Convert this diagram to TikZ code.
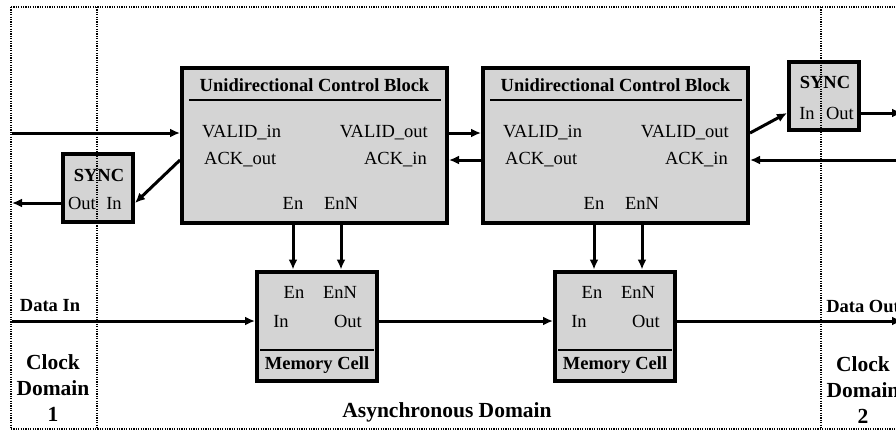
\documentclass[tikz,border=0pt]{standalone}
\usepackage{fontspec}
\setmainfont{Liberation Serif}
\usepackage{xcolor}
\usetikzlibrary{arrows.meta,positioning}
\definecolor{blockgray}{RGB}{212,212,212}

\begin{document}
\begin{tikzpicture}[x=1pt,y=-1pt,
  block/.style={draw,line width=4pt,fill=blockgray,inner sep=0pt},
  ucb/.style={block,minimum width=265pt,minimum height=155pt},
  cell/.style={block,minimum width=120pt,minimum height=109pt},
  sync/.style={block,minimum width=70pt,minimum height=68pt},
  lbl/.style={inner sep=0pt,font=\fontsize{18.5}{21}\selectfont},
  boldlbl/.style={inner sep=0pt,font=\fontsize{18.5}{21}\selectfont\bfseries},
  domainlbl/.style={align=center,inner sep=0pt,font=\fontsize{21.5}{26}\selectfont\bfseries},
  sig/.style={line width=3pt,-{Latex[length=10pt,width=9pt]}},
  frame/.style={line width=1.5pt,dash pattern=on 1.2pt off 1.2pt}]
\useasboundingbox (0,0) rectangle (896,432);

\coordinate (edgeL) at (12,0);
\coordinate (edgeR) at (902,0);

% control blocks
\node[ucb] (UCB1) at (314.5,145.5) {};
\node[ucb] (UCB2) [right = 32pt of UCB1] {};
\node[boldlbl] (title1) at (314.5,85) {Unidirectional Control Block};
\node[boldlbl] (title2) at (615.5,85) {Unidirectional Control Block};
\draw[line width=1.5pt] (189,100) -- (441,100);
\draw[line width=1.5pt] (490,100) -- (742,100);

\node[lbl,anchor=west] (vin1) at (202,133) {VALID\_in};
\node[lbl,anchor=west] (aout1) at (204,160) {ACK\_out};
\node[lbl,anchor=east] (vout1) at (428,133) {VALID\_out};
\node[lbl,anchor=east] (ain1) at (427,160) {ACK\_in};
\node[lbl] (en1) at (293,203) {En};
\node[lbl] (enn1) at (341,203) {EnN};

\node[lbl,anchor=west] (vin2) at (503,133) {VALID\_in};
\node[lbl,anchor=west] (aout2) at (505,160) {ACK\_out};
\node[lbl,anchor=east] (vout2) at (729,133) {VALID\_out};
\node[lbl,anchor=east] (ain2) at (728,160) {ACK\_in};
\node[lbl] (en2) at (594,203) {En};
\node[lbl] (enn2) at (642,203) {EnN};

% memory cells
\node[cell] (MEM1) at (317,326) {};
\node[cell] (MEM2) at (615,326) {};
\draw[line width=1.5pt] (260,350) -- (374,350);
\draw[line width=1.5pt] (558,350) -- (672,350);
\node[lbl] (men1) at (294,292) {En};
\node[lbl] (menn1) at (340,292) {EnN};
\node[lbl] (min1) at (281,321) {In};
\node[lbl] (mout1) at (348,321) {Out};
\node[boldlbl] (mtitle1) at (317,365) {Memory Cell};
\node[lbl] (men2) at (592,292) {En};
\node[lbl] (menn2) at (638,292) {EnN};
\node[lbl] (min2) at (579,321) {In};
\node[lbl] (mout2) at (646,321) {Out};
\node[boldlbl] (mtitle2) at (615,365) {Memory Cell};

% synchronizers
\node[sync] (SYNC1) at (98,187.5) {};
\node[boldlbl] (stitle1) at (99,175) {SYNC};
\node[lbl] (sout1) at (82,203) {Out};
\node[lbl] (sin1) at (114,203) {In};
\node[sync] (SYNC2) at (824,95.5) {};
\node[boldlbl] (stitle2) at (825,82) {SYNC};
\node[lbl] (sin2) at (807,113) {In};
\node[lbl] (sout2) at (840,113) {Out};

% handshake
\draw[sig] (edgeL |- vin1) -- (UCB1.west |- vin1);
\draw[sig] (UCB1.west |- aout1) -- (SYNC1.east |- sin1);
\draw[sig] (SYNC1.west |- sout1) -- (edgeL |- sout1);
\draw[sig] (UCB1.east |- vout1) -- (UCB2.west |- vin2);
\draw[sig] (UCB2.west |- aout2) -- (UCB1.east |- ain1);
\draw[sig] (UCB2.east |- vout2) -- (SYNC2.west |- sin2);
\draw[sig] (SYNC2.east |- sout2) -- (edgeR |- sout2);
\draw[sig] (edgeR |- ain2) -- (UCB2.east |- ain2);

% enables
\draw[sig] (en1 |- UCB1.south) -- (en1 |- MEM1.north);
\draw[sig] (enn1 |- UCB1.south) -- (enn1 |- MEM1.north);
\draw[sig] (en2 |- UCB2.south) -- (en2 |- MEM2.north);
\draw[sig] (enn2 |- UCB2.south) -- (enn2 |- MEM2.north);

% data path
\draw[sig] (edgeL |- min1) -- (MEM1.west |- min1);
\draw[sig] (MEM1.east |- mout1) -- (MEM2.west |- min2);
\draw[sig] (MEM2.east |- mout2) -- (edgeR |- mout2);

\node[boldlbl] (datain) at (50,306) {Data In};
\node[boldlbl] (dataout) at (863,306) {Data Out};
\node[domainlbl] (dom1) at (53,388) {Clock\\Domain\\1};
\node[domainlbl] (dom2) at (863,390) {Clock\\Domain\\2};
\node[domainlbl] (async) at (447,412) {Asynchronous Domain};

% domain borders
\draw[frame] (11,7) -- (905,7);
\draw[frame] (11,429) -- (905,429);
\draw[frame] (11,7) -- (11,429);
\draw[frame] (97,7) -- (97,429);
\draw[frame] (821,7) -- (821,429);
\end{tikzpicture}
\end{document}
